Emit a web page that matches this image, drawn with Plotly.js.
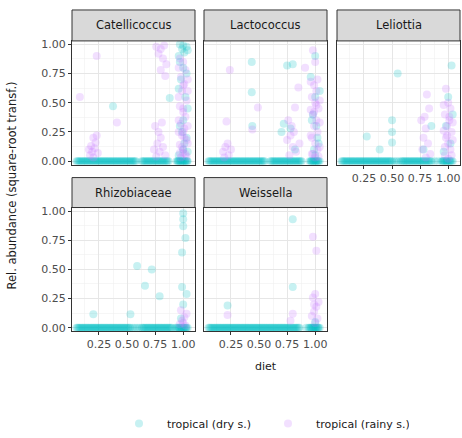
<!DOCTYPE html>
<html>
<head>
<meta charset="utf-8">
<script src="https://cdn.plot.ly/plotly-3.0.1.min.js"></script>
<style>html,body{margin:0;padding:0;background:#fff;}#chart{width:462px;height:438px;}</style>
</head>
<body>
<div id="chart"></div>
<script>
// ---- data (diet vs sqrt-transformed relative abundance) ----
const panels = ["Catellicoccus", "Lactococcus", "Leliottia", "Rhizobiaceae", "Weissella"];
const seasons = ["tropical (dry s.)", "tropical (rainy s.)"];

// dry-season samples with non-zero abundance
const catDryX = [0.375,0.88,0.97,1.00,1.03,0.99,1.01,1.00,0.98,1.02,1.00,0.99,1.01,1.00,0.96,1.04,0.97,1.03,0.96,1.04,0.97,1.03,0.96,1.04];
const catDryY = [0.47,0.54,1.00,0.99,0.98,0.96,0.93,0.80,0.70,0.55,0.35,0.25,0.15,0.10,0.90,0.95,0.85,0.75,0.62,0.45,0.30,0.20,0.05,0.08];
const lacDryX = [0.435,0.435,0.44,0.75,0.80,0.70,0.72,1.00,1.00,0.98,1.02,1.00,0.99,1.01,0.96,1.04,0.97,1.03,0.78,0.82];
const lacDryY = [0.85,0.59,0.30,0.82,0.83,0.25,0.32,0.90,0.55,0.40,0.20,0.05,0.10,0.30,0.72,0.60,0.35,0.15,0.28,0.10];
const lelDryX = [0.55,0.50,0.50,0.50,0.39,0.275,0.78,1.00,1.03,0.98,1.02,0.85,0.96,1.04];
const lelDryY = [0.75,0.35,0.25,0.16,0.10,0.21,0.10,0.55,0.82,0.30,0.15,0.30,0.08,0.40];
const rhiDryX = [0.20,0.53,0.59,0.72,0.66,0.79,0.99,1.02,1.00,1.00,1.00,0.99,1.03,1.00,0.98];
const rhiDryY = [0.115,0.115,0.53,0.50,0.36,0.27,0.645,0.77,0.87,0.93,0.98,0.35,0.29,0.20,0.08];
const weiDryX = [0.80,0.22,0.80,1.00];
const weiDryY = [0.93,0.19,0.35,0.05];

// dry-season samples with zero abundance (x = diet)
const catZeroX = [0.05,0.06,0.07,0.08,0.09,0.10,0.11,0.12,0.13,0.14,0.15,0.16,0.17,0.18,0.19,0.20,0.21,0.22,0.23,0.24,0.25,0.26,0.27,0.28,0.29,0.30,0.31,0.32,0.33,0.34,0.35,0.36,0.37,0.38,0.39,0.40,0.41,0.42,0.43,0.44,0.45,0.46,0.47,0.48,0.49,0.50,0.51,0.52,0.53,0.54,0.55,0.56,0.57,0.58,
  0.63,0.64,0.65,0.66,0.67,0.68,0.69,0.70,0.71,0.72,0.73,0.74,0.75,0.76,0.77,0.78,0.79,0.80,0.81,0.82,0.83,0.84,0.85,0.86,0.87,
  0.94,0.95,0.96,0.97,0.98,0.99,1.00,1.01,1.02,1.03,1.04,0.955,0.975,0.995,1.015,1.035];
const lacZeroX = [0.05,0.06,0.07,0.08,0.09,0.10,0.11,0.12,0.13,0.14,0.15,0.16,0.17,0.18,0.19,0.20,0.21,0.22,0.23,0.24,0.25,0.26,0.27,0.28,0.29,0.30,0.31,0.32,0.33,0.34,0.35,0.36,0.37,0.38,0.39,0.40,0.41,0.42,0.43,0.44,0.45,0.46,0.47,0.48,0.49,0.50,0.51,0.52,0.53,0.54,0.55,
  0.60,0.61,0.62,0.63,0.64,0.65,0.66,0.67,0.68,0.69,0.70,0.71,0.72,0.73,0.74,0.75,0.76,0.77,0.78,0.79,0.80,0.81,0.82,0.83,0.84,0.85,0.86,0.87,0.88,
  0.95,0.96,0.97,0.98,0.99,1.00,1.01,1.02,1.03,1.04,0.965,0.985,1.005,1.025];
const lelZeroX = [0.05,0.06,0.07,0.08,0.09,0.10,0.11,0.12,0.13,0.14,0.15,0.16,0.17,0.18,0.19,0.20,0.21,0.22,0.23,0.24,0.25,0.26,0.27,0.28,0.29,0.30,0.31,0.32,0.33,0.34,0.35,0.36,0.37,0.38,0.39,0.40,0.41,0.42,0.43,0.44,0.45,0.46,0.47,0.48,0.49,0.50,0.52,0.54,0.56,0.58,0.59,0.60,0.61,0.62,0.63,0.64,0.65,0.66,0.67,0.68,0.69,0.70,0.71,0.72,0.73,0.74,0.75,0.76,0.77,0.78,0.79,0.80,0.81,0.82,0.83,0.84,0.85,
  0.88,0.91,0.94,0.95,0.96,0.97,0.98,0.99,1.00,1.01,1.02,1.03,1.04,0.955,0.985,1.015];
const rhiZeroX = [0.05,0.06,0.07,0.08,0.09,0.10,0.11,0.12,0.13,0.14,0.15,0.16,0.17,0.18,0.19,0.20,0.21,0.22,0.23,0.24,0.25,0.26,0.27,0.28,0.29,0.30,0.31,0.32,0.33,0.34,0.35,0.36,0.37,0.38,0.39,0.40,0.41,0.42,0.43,0.44,0.45,0.46,0.47,0.48,0.49,0.50,0.51,0.52,0.53,0.55,0.57,0.59,0.61,0.63,0.64,0.65,0.66,0.67,0.68,0.69,0.70,0.71,0.72,0.73,0.74,0.75,0.76,0.77,0.78,0.79,0.80,0.81,0.82,0.83,0.84,0.85,0.86,0.87,0.88,0.89,0.90,
  0.93,0.94,0.95,0.96,0.97,0.98,0.99,1.00,1.01,1.02,1.03,1.04,0.965,0.985,1.005,1.025];
const weiZeroX = [0.05,0.06,0.07,0.08,0.09,0.10,0.11,0.12,0.13,0.14,0.15,0.16,0.17,0.18,0.19,0.20,0.21,0.22,0.23,0.24,0.25,0.26,0.27,0.28,0.29,0.30,0.31,0.32,0.33,0.34,0.35,0.36,0.37,0.38,0.39,0.40,0.41,0.42,0.43,0.44,0.45,0.46,0.47,0.48,0.49,0.50,0.51,0.52,0.53,0.54,0.55,0.56,0.57,0.58,0.59,0.60,0.61,0.62,0.63,0.64,0.65,0.66,0.67,0.68,0.69,0.70,0.71,0.72,0.73,0.74,0.75,0.76,0.77,0.78,0.79,0.80,0.81,0.82,0.83,0.84,0.85,0.86,
  0.92,0.94,0.95,0.96,0.97,0.98,0.99,1.00,1.01,1.02,1.03,1.04,0.965,0.985,1.005,1.025];
const zeroY = [0,0,0,0,0,0,0,0,0,0, 0,0,0,0,0,0,0,0,0,0, 0,0,0,0,0,0,0,0,0,0, 0,0,0,0,0,0,0,0,0,0, 0,0,0,0,0,0,0,0,0,0,
  0,0,0,0,0,0,0,0,0,0, 0,0,0,0,0,0,0,0,0,0, 0,0,0,0,0,0,0,0,0,0, 0,0,0,0,0,0,0,0,0,0, 0,0,0,0,0,0,0,0,0,0, 0,0,0,0,0,0,0,0,0,0];

// rainy-season samples
const catRainyX = [0.08,0.23,0.41,0.17,0.19,0.21,0.18,0.22,0.20,0.23,0.16,0.24,0.20,0.76,0.80,0.83,0.78,0.82,0.85,0.80,0.84,0.75,0.78,0.80,0.77,0.82,0.79,0.84,0.74,0.81,0.76,
  0.97,1.00,1.02,0.98,1.01,0.99,1.03,0.97,1.00,1.02,0.98,1.01,0.99,1.03,0.97,1.00,1.02,0.98,1.00,1.01,0.99,
  0.96,1.04,0.96,1.04,0.96,1.04,0.96,1.04,0.97,1.03,1.00,1.00,1.00];
const catRainyY = [0.55,0.90,0.33,0.05,0.08,0.11,0.13,0.16,0.20,0.22,0.10,0.07,0.03,0.98,0.96,0.99,0.92,0.88,0.83,0.78,0.73,0.30,0.25,0.20,0.15,0.12,0.08,0.05,0.10,0.33,0.04,
  0.88,0.85,0.78,0.72,0.66,0.60,0.52,0.47,0.42,0.38,0.32,0.28,0.22,0.18,0.14,0.10,0.06,0.03,0.45,0.20,0.12,
  0.80,0.70,0.55,0.60,0.35,0.30,0.25,0.15,0.07,0.04,0.65,0.25,0.07];
const lacRainyX = [0.24,0.49,0.21,0.44,0.18,0.20,0.22,0.25,0.23,0.19,0.85,0.91,0.82,0.75,0.78,0.80,0.83,0.77,0.86,0.79,
  0.98,1.00,1.02,0.99,1.01,0.97,1.00,1.03,0.98,1.01,0.99,1.02,0.97,1.00,1.02,0.98,1.00,0.99,1.01,
  0.96,1.04,0.96,1.04,0.96,1.04,0.97,1.03,0.76,0.81];
const lacRainyY = [0.78,0.46,0.34,0.27,0.08,0.12,0.15,0.10,0.05,0.03,0.63,0.80,0.46,0.18,0.22,0.12,0.08,0.05,0.15,0.30,
  0.95,0.85,0.70,0.65,0.60,0.55,0.50,0.45,0.40,0.35,0.30,0.25,0.20,0.15,0.10,0.06,0.03,0.42,0.48,
  0.68,0.52,0.44,0.33,0.22,0.12,0.06,0.04,0.35,0.25];
const lelRainyX = [0.81,0.83,0.76,0.80,0.78,0.82,0.77,0.84,0.80,0.79,
  0.98,1.00,1.02,0.97,1.01,0.99,1.03,0.98,1.00,1.02,0.97,1.00,1.01,0.99,
  0.96,1.04,0.96,1.04,0.97,1.03];
const lelRainyY = [0.57,0.45,0.35,0.28,0.20,0.15,0.10,0.06,0.03,0.38,
  0.62,0.50,0.45,0.40,0.35,0.30,0.25,0.20,0.15,0.10,0.05,0.02,0.38,0.22,
  0.48,0.33,0.26,0.18,0.12,0.05];
const rhiRainyX = [0.97,0.99,1.01,1.03,0.98,1.00,1.02];
const rhiRainyY = [0.03,0.06,0.09,0.12,0.15,0.04,0.02];
const weiRainyX = [0.98,1.01,0.22,0.80,0.78,0.97,0.99,1.01,1.03,0.98,1.00,1.02,1.00,0.99];
const weiRainyY = [0.78,0.66,0.11,0.12,0.06,0.10,0.14,0.18,0.22,0.26,0.29,0.08,0.04,0.20];

const xTicks = [0.25, 0.50, 0.75, 1.00];
const yTicks = [0.00, 0.25, 0.50, 0.75, 1.00];

// ---- styling ----
const dryColor = "rgba(0,191,196,0.22)";
const rainyColor = "rgba(199,124,255,0.24)";
const dryData = [[catDryX,catDryY],[lacDryX,lacDryY],[lelDryX,lelDryY],[rhiDryX,rhiDryY],[weiDryX,weiDryY]];
const zeroData = [catZeroX, lacZeroX, lelZeroX, rhiZeroX, weiZeroX];
const rainyData = [[catRainyX,catRainyY],[lacRainyX,lacRainyY],[lelRainyX,lelRainyY],[rhiRainyX,rhiRainyY],[weiRainyX,weiRainyY]];

const W = 462, H = 438;
const colPx = [[72,195],[204,327],[337,460]];
const rowPx = [[41,165],[208,332]];
const stripPx = [[10,41],[178,208]];
const pos = [[0,0],[1,0],[2,0],[0,1],[1,1]];

const font = "DejaVu Sans, sans-serif";
const mSize = 8;
const traces = [];
const layout = {
  width: W, height: H, margin: {l:0,r:0,t:0,b:0},
  paper_bgcolor: "#fff", plot_bgcolor: "#fff",
  showlegend: true,
  legend: {orientation: "h", x: 111 / W, y: (H - 424) / H, xanchor: "left", yanchor: "middle",
           font: {family: font, size: 11, color: "#1A1A1A"}, itemwidth: 46, entrywidth: 88,
           traceorder: "normal"},
  shapes: [], annotations: []
};

for (let i = 0; i < 5; i++) {
  const s = i === 0 ? "" : String(i + 1);
  const [c, r] = pos[i];
  traces.push({type: "scatter", mode: "markers", x: zeroData[i], y: zeroY,
    xaxis: "x" + s, yaxis: "y" + s, name: seasons[0], legendgroup: "dry", showlegend: false,
    marker: {color: dryColor, size: mSize, line: {width: 0}}, hoverinfo: "skip"});
  traces.push({type: "scatter", mode: "markers", x: dryData[i][0], y: dryData[i][1],
    xaxis: "x" + s, yaxis: "y" + s, name: seasons[0], legendgroup: "dry", showlegend: i === 0,
    marker: {color: dryColor, size: mSize, line: {width: 0}}, hoverinfo: "skip"});
  traces.push({type: "scatter", mode: "markers", x: rainyData[i][0], y: rainyData[i][1],
    xaxis: "x" + s, yaxis: "y" + s, name: seasons[1], legendgroup: "rainy", showlegend: i === 0,
    marker: {color: rainyColor, size: mSize, line: {width: 0}}, hoverinfo: "skip"});

  const showX = (r === 1) || (c === 2);
  const showY = (c === 0);
  const common = {
    ticklen: 3, tickwidth: 1, tickcolor: "#333333",
    tickfont: {family: font, size: 11, color: "#4D4D4D"},
    showline: true, mirror: true, linecolor: "#333333", linewidth: 1, zeroline: false,
    showgrid: true, gridcolor: "#E6E6E6", gridwidth: 1,
    minor: {tickvals: [0.125, 0.375, 0.625, 0.875], showgrid: true, gridcolor: "#F0F0F0", gridwidth: 0.6, ticks: ""},
    fixedrange: true
  };
  layout["xaxis" + s] = Object.assign({}, common, {
    domain: [colPx[c][0] / W, colPx[c][1] / W], anchor: "y" + s, range: [0.01, 1.105],
    tickvals: xTicks, ticktext: xTicks.map(v => v.toFixed(2)), showticklabels: showX,
    ticks: showX ? "outside" : ""});
  layout["yaxis" + s] = Object.assign({}, common, {
    domain: [(H - rowPx[r][1]) / H, (H - rowPx[r][0]) / H], anchor: "x" + s, range: [-0.03, 1.03],
    tickvals: yTicks, ticktext: yTicks.map(v => v.toFixed(2)), showticklabels: showY,
    ticks: showY ? "outside" : ""});
  layout.shapes.push({type: "rect", xref: "paper", yref: "paper",
    x0: colPx[c][0] / W, x1: colPx[c][1] / W, y0: (H - stripPx[r][1]) / H, y1: (H - stripPx[r][0]) / H,
    fillcolor: "#D9D9D9", line: {color: "#333333", width: 1}, layer: "above"});
  layout.annotations.push({xref: "paper", yref: "paper", showarrow: false,
    x: (colPx[c][0] + colPx[c][1]) / 2 / W, y: (H - (stripPx[r][0] + stripPx[r][1]) / 2) / H,
    xanchor: "center", yanchor: "middle", text: panels[i],
    font: {family: font, size: 11.5, color: "#1A1A1A"}});
}

layout.annotations.push({xref: "paper", yref: "paper", showarrow: false, x: 12 / W, y: (H - 186) / H,
  xanchor: "center", yanchor: "middle", textangle: -90, text: "Rel. abundance (square-root transf.)",
  font: {family: font, size: 11.5, color: "#1A1A1A"}});
layout.annotations.push({xref: "paper", yref: "paper", showarrow: false, x: 266 / W, y: (H - 367) / H,
  xanchor: "center", yanchor: "middle", text: "diet",
  font: {family: font, size: 11, color: "#1A1A1A"}});

Plotly.newPlot("chart", traces, layout, {displayModeBar: false, staticPlot: true});
</script>
</body>
</html>
